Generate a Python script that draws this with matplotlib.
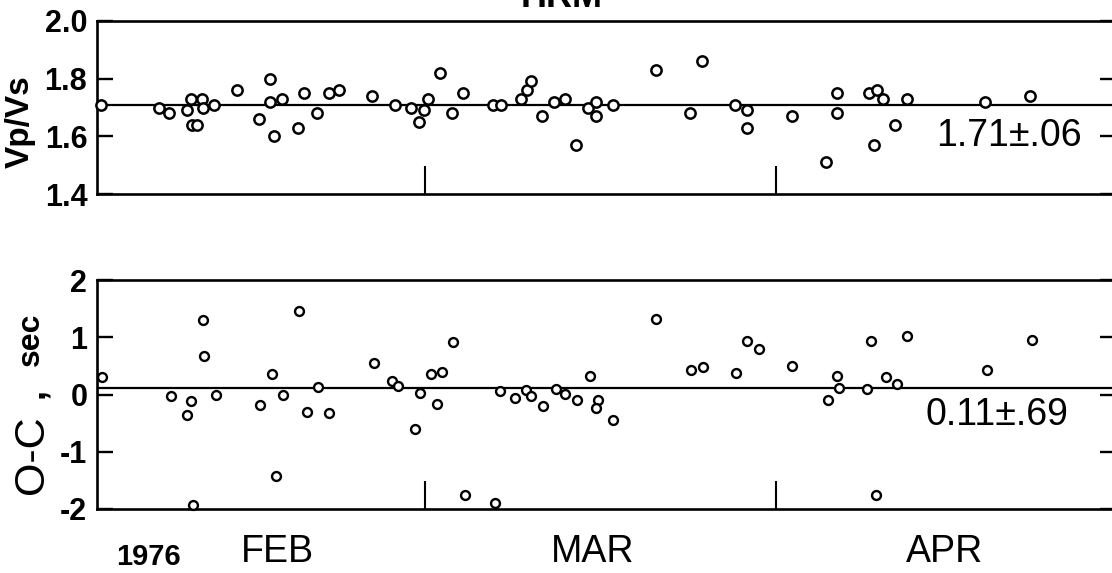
import matplotlib
matplotlib.use("Agg")
import matplotlib.pyplot as plt
from matplotlib.transforms import blended_transform_factory

# ---- data (day index: 0 = 1 Feb 1976, 29 = 1 Mar, 60 = 1 Apr, 90 = 1 May) ----
vpvs_day = [0.33, 5.48, 6.39, 7.92, 8.30, 8.36, 8.80, 9.30, 9.33, 10.36,
            12.34, 14.31, 15.28, 15.28, 15.64, 16.31, 17.79, 18.32, 19.43, 20.52,
            21.38, 24.29, 26.35, 27.70, 28.45, 28.90, 29.27, 30.30, 31.39, 32.36,
            35.00, 35.66, 37.46, 37.95, 38.34, 39.31, 40.37, 41.37, 42.31, 43.35,
            44.08, 44.05, 45.60, 49.35, 52.38, 53.41, 56.36, 57.45, 57.39, 61.42,
            64.40, 65.34, 65.40, 68.20, 68.87, 69.46, 68.64, 70.50, 71.52, 78.44,
            82.42]
vpvs_val = [1.71, 1.70, 1.68, 1.69, 1.73, 1.64, 1.64, 1.73, 1.70, 1.71,
            1.76, 1.66, 1.80, 1.72, 1.60, 1.73, 1.63, 1.75, 1.68, 1.75,
            1.76, 1.74, 1.71, 1.70, 1.65, 1.69, 1.73, 1.82, 1.68, 1.75,
            1.71, 1.71, 1.73, 1.76, 1.79, 1.67, 1.72, 1.73, 1.57, 1.70,
            1.72, 1.67, 1.71, 1.83, 1.68, 1.86, 1.71, 1.69, 1.63, 1.67,
            1.51, 1.75, 1.68, 1.75, 1.76, 1.73, 1.57, 1.64, 1.73, 1.72,
            1.74]
oc_day = [0.47, 6.50, 8.27, 7.98, 9.39, 9.48, 8.50, 10.49, 14.40, 15.46,
          16.43, 15.79, 17.87, 18.52, 19.55, 20.49, 24.47, 26.03, 26.56, 28.53,
          28.09, 29.47, 30.50, 30.00, 31.48, 32.48, 35.13, 35.60, 36.96, 37.87,
          38.37, 39.43, 40.55, 41.37, 42.40, 43.50, 44.29, 44.03, 45.60, 49.38,
          52.44, 53.50, 56.42, 57.45, 58.48, 61.40, 64.58, 65.55, 65.40, 68.35,
          68.05, 68.79, 71.52, 69.67, 70.64, 78.65, 82.57]
oc_val = [0.30, -0.02, -0.12, -0.36, 1.30, 0.68, -1.93, -0.01, -0.18, 0.36,
          -0.01, -1.43, 1.45, -0.30, 0.13, -0.32, 0.55, 0.24, 0.14, 0.03,
          -0.61, 0.35, 0.39, -0.16, 0.91, -1.76, -1.89, 0.06, -0.06, 0.08,
          -0.02, -0.20, 0.10, 0.01, -0.09, 0.33, -0.09, -0.23, -0.45, 1.32,
          0.42, 0.48, 0.37, 0.93, 0.79, 0.49, -0.09, 0.11, 0.33, 0.93,
          0.10, -1.76, 1.03, 0.31, 0.19, 0.43, 0.96]

vpvs_mean, vpvs_sd = 1.71, 0.06
oc_mean, oc_sd = 0.11, 0.69
month_start_days = [29, 60]
month_names = ["FEB", "MAR", "APR"]
month_label_days = [15.9, 43.8, 74.9]
year_label = "1976"
year_label_day = 4.5
title = "HRM"
vpvs_ticks = [1.4, 1.6, 1.8, 2.0]
vpvs_ticklabels = ["1.4", "1.6", "1.8", "2.0"]
oc_ticks = [-2, -1, 0, 1, 2]
oc_ticklabels = ["-2", "-1", "0", "1", "2"]

# ---- figure ----
W, H = 1112, 573
fig = plt.figure(figsize=(W / 100, H / 100), dpi=100)
FONT = "Liberation Sans"
plt.rcParams["font.family"] = [FONT, "DejaVu Sans"]

def fx(px):
    return px / W

def fy(py):
    return 1 - py / H

left_px, right_px = 97, 1116
ax1 = fig.add_axes([fx(left_px), fy(194.3), fx(right_px - left_px), (194.3 - 20.7) / H])
ax2 = fig.add_axes([fx(left_px), fy(509), fx(right_px - left_px), (509 - 280) / H])

for ax in (ax1, ax2):
    ax.set_xlim(0, 90)
    for s in ("top", "bottom", "left"):
        ax.spines[s].set_linewidth(1.9)
    ax.spines["right"].set_visible(False)
    ax.set_xticks(month_start_days)
    ax.set_xticklabels([])
    ax.tick_params(axis="x", direction="in", length=20, width=1.5, bottom=True, top=False)
    ax.tick_params(axis="y", direction="in", length=11.5, width=1.7, left=True, right=True,
                   pad=7)

# top panel
ax1.set_ylim(1.4, 2.0)
ax1.set_yticks(vpvs_ticks)
ax1.set_yticklabels(vpvs_ticklabels, fontweight="bold", fontsize=22)
ax1.axhline(vpvs_mean, color="black", lw=1.6, zorder=1)
ax1.plot(vpvs_day, vpvs_val, "o", ms=7.4, mew=1.8, mfc="white", mec="black",
         zorder=3, clip_on=False)
ax1.text(0.895, 1.6, f"{vpvs_mean:.2f}±{str(vpvs_sd)[1:]}",
         transform=blended_transform_factory(ax1.transAxes, ax1.transData),
         ha="center", va="center", fontsize=27,
         bbox=dict(facecolor="white", edgecolor="none", pad=1))

# bottom panel
ax2.set_ylim(-2, 2)
ax2.set_yticks(oc_ticks)
ax2.set_yticklabels(oc_ticklabels, fontweight="bold", fontsize=22)
ax2.axhline(oc_mean, color="black", lw=1.6, zorder=1)
ax2.plot(oc_day, oc_val, "o", ms=6.4, mew=1.7, mfc="white", mec="black",
         zorder=3, clip_on=False)
ax2.text(0.883, -0.36, f"{oc_mean:.2f}±{str(oc_sd)[1:]}",
         transform=blended_transform_factory(ax2.transAxes, ax2.transData),
         ha="center", va="center", fontsize=27,
         bbox=dict(facecolor="white", edgecolor="none", pad=1))

# month labels below the bottom panel
tr = blended_transform_factory(ax2.transData, fig.transFigure)
for d, name in zip(month_label_days, month_names):
    ax2.text(d, fy(552), name, transform=tr, ha="center", va="center", fontsize=27)
ax2.text(year_label_day, fy(557), year_label, transform=tr, ha="center", va="center",
         fontsize=21, fontweight="bold")

# y labels
fig.text(fx(20), fy(122), "Vp/Vs", rotation=90, ha="center", va="center",
         fontsize=24, fontweight="bold")
fig.text(fx(43), fy(494), "O-C", rotation=90, rotation_mode="anchor",
         ha="left", va="baseline", fontsize=31)
fig.text(fx(43), fy(398), ",", rotation=90, rotation_mode="anchor",
         ha="left", va="baseline", fontsize=26, fontweight="bold")
fig.text(fx(39), fy(366), "sec", rotation=90, rotation_mode="anchor",
         ha="left", va="baseline", fontsize=23, fontweight="bold")

# title (cut off at top, as in the original scan)
fig.text(fx(562), fy(7), title, ha="center", va="baseline", fontsize=26,
         fontweight="bold")

fig.savefig("out.png", dpi=100)
